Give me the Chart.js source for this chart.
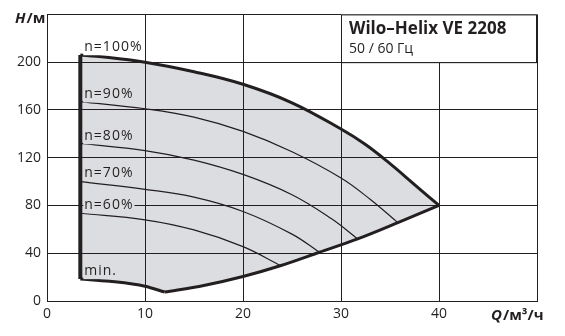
<!DOCTYPE html>
<html>
<head>
<meta charset="utf-8">
<script src="https://cdn.jsdelivr.net/npm/chart.js@4"></script>
<style>
  body { margin: 0; background: #fff; }
</style>
</head>
<body>
<canvas id="myChart" width="565" height="336"></canvas>
<script>
var ctx = document.getElementById('myChart').getContext('2d');

// n=100% .. n=60% curves, Q in m3/h, H in m
var Q100 = [3.4, 5, 10, 15, 20, 25, 30, 32.5, 35, 37.5, 40];
var H100 = [206, 205, 200, 192, 181.5, 166, 144, 131, 115, 97.5, 80];
var Q90 = [3.4, 10, 15, 20, 25, 30, 33, 35.8];
var H90 = [167, 161, 154, 142, 125, 103, 85, 65.6];
var Q80 = [3.4, 10, 15, 20, 25, 29, 31.7];
var H80 = [132, 126, 118, 106, 89, 69, 52];
var Q70 = [3.4, 10, 15, 20, 25, 27.8];
var H70 = [100, 93.5, 87, 75, 56, 40.8];
var Q60 = [3.4, 10, 15, 20, 23.8];
var H60 = [73.5, 68, 59.5, 45.5, 29.8];
// lower boundary: min speed curve, then the end-of-curve line up to 40
var Qmin = [3.4, 6.4, 10, 12, 16, 20, 23.8, 27.8, 31.7, 35.8, 40];
var Hmin = [18.5, 16.5, 12.4, 7.5, 13, 20.5, 29.5, 40.8, 52, 65.6, 80];

var xTicks = [0, 10, 20, 30, 40];
var yTicks = [0, 40, 80, 120, 160, 200];
var curveLabels = ['n=100%', 'n=90%', 'n=80%', 'n=70%', 'n=60%', 'min.'];
var labelH = [212.5, 173, 138, 107.5, 80.3, 25];

var ink = '#231f20';
var grey = '#dcdde0';

function pts(qs, hs) {
  return qs.map(function (q, i) { return { x: q, y: hs[i] }; });
}

function curve(data, w, smooth) {
  var ds = {
    data: data,
    borderColor: ink,
    borderWidth: w,
    pointRadius: 0,
    fill: false
  };
  if (smooth) ds.tension = 0.4;
  else ds.cubicInterpolationMode = 'monotone';
  return ds;
}

// index 0 = top curve (filled down to index 1 = lower boundary)
var top100 = curve(pts(Q100, H100), 3, true);
top100.fill = { target: 1 };
top100.backgroundColor = grey;
var bottom = curve(pts(Qmin, Hmin), 0);

var datasets = [
  top100,
  bottom,
  curve(pts(Qmin.slice(0, 4), Hmin.slice(0, 4)), 3),
  curve(pts(Qmin.slice(3), Hmin.slice(3)), 3),
  curve([{ x: Qmin[0], y: Hmin[0] }, { x: Q100[0], y: H100[0] }], 4),
  curve(pts(Q90, H90), 1.2, true),
  curve(pts(Q80, H80), 1.2, true),
  curve(pts(Q70, H70), 1.2, true),
  curve(pts(Q60, H60), 1.2, true)
];

var extras = {
  id: 'extras',
  afterDatasetsDraw: function (chart) {
    var c = chart.ctx, xs = chart.scales.x, ys = chart.scales.y;
    c.save();
    // title box in the upper right cell
    var bx = xs.getPixelForValue(30), by = ys.getPixelForValue(240);
    var bw = xs.getPixelForValue(50) - bx, bh = ys.getPixelForValue(200) - by;
    c.fillStyle = '#fff';
    c.fillRect(bx, by, bw, bh);
    c.strokeStyle = ink;
    c.lineWidth = 1;
    c.strokeRect(bx + 0.5, by + 0.5, bw - 1, bh);
    c.fillStyle = ink;
    c.textBaseline = 'middle';
    c.textAlign = 'left';
    c.font = 'bold 17px "Open Sans"';
    c.fillText('Wilo\u2013Helix VE 2208', bx + 8, by + 15);
    c.font = '14px "Open Sans"';
    c.fillText('50 / 60 \u0413\u0446', bx + 8, by + 35);

    // curve labels
    c.font = '14px "Open Sans"';
    c.letterSpacing = '1px';
    curveLabels.forEach(function (t, i) {
      var px = xs.getPixelForValue(3.6) + 2, py = ys.getPixelForValue(labelH[i]);
      var w = c.measureText(t).width;
      c.fillStyle = i === 0 ? '#fff' : grey;
      c.fillRect(px - 1, py - 8, w + 2, 16);
      c.fillStyle = ink;
      c.fillText(t, px, py);
    });
    c.letterSpacing = '0px';

    // axis titles
    c.font = 'bold italic 15px "Open Sans"';
    c.fillText('H', 15, 19);
    var hw = c.measureText('H').width;
    c.font = 'bold 15px "Open Sans"';
    c.fillText('/\u043c', 15 + hw + 1, 19);

    c.font = 'bold italic 15px "Open Sans"';
    c.fillText('Q', 491, 316);
    var qw = c.measureText('Q').width;
    c.font = 'bold 15px "Open Sans"';
    c.fillText('/\u043c\u00b3/\u0447', 491 + qw + 1, 316);
    c.restore();
  }
};

var chart = new Chart(ctx, {
  type: 'line',
  data: { datasets: datasets },
  options: {
    responsive: false,
    animation: false,
    layout: { padding: { top: 12, right: 28, left: 0, bottom: 0 } },
    plugins: {
      legend: { display: false },
      tooltip: { enabled: false },
      filler: { drawTime: 'beforeDraw' }
    },
    scales: {
      x: {
        type: 'linear',
        min: 0,
        max: 50,
        afterFit: function (s) { s.height = 35; },
        afterBuildTicks: function (s) {
          s.ticks = xTicks.concat([50]).map(function (v) { return { value: v }; });
        },
        ticks: {
          padding: 5,
          color: ink,
          font: { family: 'Open Sans', size: 14 },
          callback: function (v) { return xTicks.indexOf(v) >= 0 ? String(v) : ''; }
        },
        grid: { color: ink, lineWidth: 1, drawTicks: false },
        border: { color: ink, width: 1 }
      },
      y: {
        type: 'linear',
        min: 0,
        max: 240,
        afterFit: function (s) { s.width = 47; },
        afterBuildTicks: function (s) {
          s.ticks = yTicks.concat([240]).map(function (v) { return { value: v }; });
        },
        ticks: {
          padding: 6,
          color: ink,
          font: { family: 'Open Sans', size: 14 },
          callback: function (v) { return yTicks.indexOf(v) >= 0 ? String(v) : ''; }
        },
        grid: { color: ink, lineWidth: 1, drawTicks: false },
        border: { color: ink, width: 1 }
      }
    }
  },
  plugins: [extras]
});
</script>
</body>
</html>
